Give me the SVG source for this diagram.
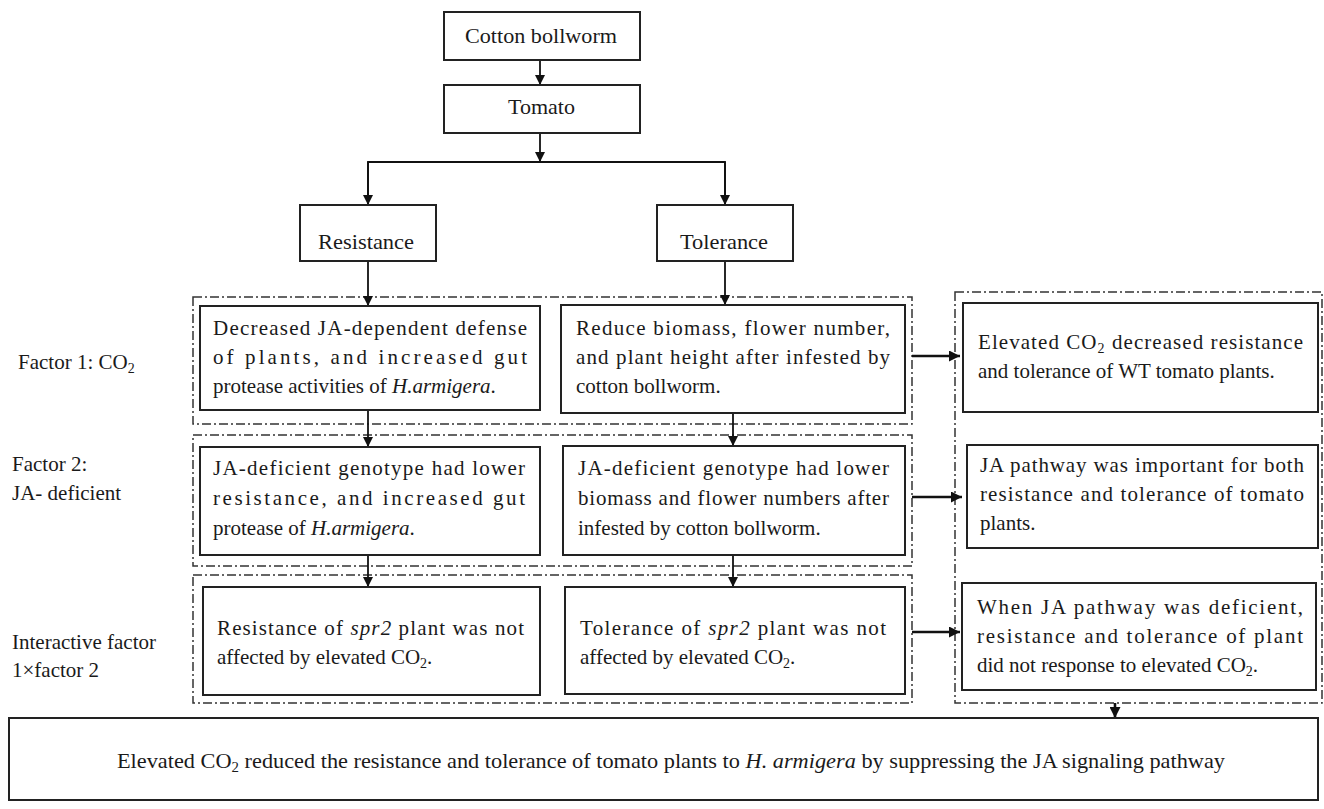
<svg xmlns="http://www.w3.org/2000/svg" width="1324" height="809" viewBox="0 0 1324 809">
<defs>
<marker id="ah" markerUnits="userSpaceOnUse" markerWidth="10" markerHeight="10" refX="10" refY="5" orient="auto"><path d="M0,0 L10,5 L0,10 z" fill="#111"/></marker>
<marker id="ahb" markerUnits="userSpaceOnUse" markerWidth="11" markerHeight="11" refX="11" refY="5.5" orient="auto"><path d="M0,0 L11,5.5 L0,11 z" fill="#111"/></marker>
<style>
.box{fill:#fff;stroke:#222;stroke-width:2}
.dd{fill:none;stroke:#333;stroke-width:1.5;stroke-dasharray:9,3,2,3}
.t{font-family:"Liberation Serif",serif;font-size:21px;fill:#1a1a1a}
.c{text-anchor:middle}
.ln{stroke:#111;stroke-width:1.8;fill:none}
.lb{stroke:#111;stroke-width:2.6;fill:none}
.i{font-style:italic}
</style>
</defs>
<rect width="1324" height="809" fill="#fff"/>

<g id="groups">
<rect class="dd" x="193" y="297" width="719" height="127"/>
<rect class="dd" x="193" y="435" width="719" height="131"/>
<rect class="dd" x="193" y="575" width="719" height="128"/>
<rect class="dd" x="955" y="292" width="367" height="411"/>
</g>

<g id="connectors">
<line class="ln" x1="540" y1="60" x2="540" y2="85" marker-end="url(#ah)"/>
<line class="ln" x1="540" y1="133" x2="540" y2="162" marker-end="url(#ah)"/>
<polyline class="ln" points="368,205 368,162 725,162 725,205"/>
<line class="ln" x1="368" y1="162" x2="368" y2="205" marker-end="url(#ah)"/>
<line class="ln" x1="725" y1="162" x2="725" y2="205" marker-end="url(#ah)"/>
<line class="ln" x1="368" y1="261" x2="368" y2="306" marker-end="url(#ah)"/>
<line class="ln" x1="725" y1="261" x2="725" y2="305" marker-end="url(#ah)"/>
<line class="ln" x1="368" y1="402" x2="368" y2="447" marker-end="url(#ah)"/>
<line class="ln" x1="733" y1="402" x2="733" y2="446" marker-end="url(#ah)"/>
<line class="ln" x1="368" y1="542" x2="368" y2="587" marker-end="url(#ah)"/>
<line class="ln" x1="733" y1="542" x2="733" y2="587" marker-end="url(#ah)"/>
<line class="lb" x1="912" y1="356" x2="960" y2="356" marker-end="url(#ahb)"/>
<line class="lb" x1="912" y1="497" x2="962" y2="497" marker-end="url(#ahb)"/>
<line class="lb" x1="912" y1="632" x2="960" y2="632" marker-end="url(#ahb)"/>
<line class="lb" x1="1115" y1="703" x2="1115" y2="718" marker-end="url(#ahb)"/>
</g>

<g id="cotton">
<rect class="box" x="444" y="12" width="196" height="48"/>
<text class="t" x="465" y="43" font-size="22" textLength="152" lengthAdjust="spacingAndGlyphs">Cotton bollworm</text>
</g>
<g id="tomato">
<rect class="box" x="444" y="85" width="196" height="48"/>
<text class="t" x="508" y="114" font-size="22" textLength="67" lengthAdjust="spacingAndGlyphs">Tomato</text>
</g>
<g id="resistance">
<rect class="box" x="300" y="205" width="136" height="56"/>
<text class="t" x="318" y="249" font-size="22" textLength="96" lengthAdjust="spacingAndGlyphs">Resistance</text>
</g>
<g id="tolerance">
<rect class="box" x="657" y="205" width="136" height="56"/>
<text class="t" x="680" y="249" font-size="22" textLength="88" lengthAdjust="spacingAndGlyphs">Tolerance</text>
</g>

<g id="label-f1">
<text class="t" x="18" y="369">Factor 1: CO<tspan font-size="14" dy="4">2</tspan></text>
</g>
<g id="label-f2">
<text class="t" x="12" y="471">Factor 2:</text>
<text class="t" x="12" y="500">JA- deficient</text>
</g>
<g id="label-f3">
<text class="t" x="12" y="649" font-size="20">Interactive factor</text>
<text class="t" x="12" y="677">1×factor 2</text>
</g>

<g id="r1-res">
<rect class="box" x="200" y="306" width="340" height="104"/>
<text class="t" x="213" y="335" textLength="314" lengthAdjust="spacing">Decreased JA-dependent defense</text>
<text class="t" x="213" y="364" textLength="314" lengthAdjust="spacing">of plants, and increased gut</text>
<text class="t" x="213" y="393">protease activities of <tspan class="i">H.armigera</tspan>.</text>
</g>
<g id="r1-tol">
<rect class="box" x="561" y="305" width="344" height="108"/>
<text class="t" x="576" y="335" textLength="314" lengthAdjust="spacing">Reduce biomass, flower number,</text>
<text class="t" x="576" y="364" textLength="314" lengthAdjust="spacing">and plant height after infested by</text>
<text class="t" x="576" y="393">cotton bollworm.</text>
</g>
<g id="r1-sum">
<rect class="box" x="963" y="303" width="355" height="109"/>
<text class="t" x="978" y="349" textLength="325" lengthAdjust="spacing">Elevated CO<tspan font-size="14" dy="4">2</tspan><tspan dy="-4"> decreased resistance</tspan></text>
<text class="t" x="978" y="378">and tolerance of WT tomato plants.</text>
</g>

<g id="r2-res">
<rect class="box" x="200" y="447" width="340" height="108"/>
<text class="t" x="213" y="475" textLength="312" lengthAdjust="spacing">JA-deficient genotype had lower</text>
<text class="t" x="213" y="505" textLength="312" lengthAdjust="spacing">resistance, and increased gut</text>
<text class="t" x="213" y="535">protease of <tspan class="i">H.armigera</tspan>.</text>
</g>
<g id="r2-tol">
<rect class="box" x="563" y="446" width="342" height="109"/>
<text class="t" x="578" y="475" textLength="311" lengthAdjust="spacing">JA-deficient genotype had lower</text>
<text class="t" x="578" y="505" textLength="311" lengthAdjust="spacing">biomass and flower numbers after</text>
<text class="t" x="578" y="535">infested by cotton bollworm.</text>
</g>
<g id="r2-sum">
<rect class="box" x="967" y="445" width="351" height="103"/>
<text class="t" x="980" y="472" textLength="324" lengthAdjust="spacing">JA pathway was important for both</text>
<text class="t" x="980" y="501" textLength="324" lengthAdjust="spacing">resistance and tolerance of tomato</text>
<text class="t" x="980" y="530">plants.</text>
</g>

<g id="r3-res">
<rect class="box" x="203" y="587" width="337" height="108"/>
<text class="t" x="217" y="635" textLength="307" lengthAdjust="spacing">Resistance of <tspan class="i">spr2</tspan> plant was not</text>
<text class="t" x="217" y="664">affected by elevated CO<tspan font-size="14" dy="4">2</tspan><tspan dy="-4">.</tspan></text>
</g>
<g id="r3-tol">
<rect class="box" x="565" y="587" width="340" height="107"/>
<text class="t" x="580" y="635" textLength="306" lengthAdjust="spacing">Tolerance of <tspan class="i">spr2</tspan> plant was not</text>
<text class="t" x="580" y="664">affected by elevated CO<tspan font-size="14" dy="4">2</tspan><tspan dy="-4">.</tspan></text>
</g>
<g id="r3-sum">
<rect class="box" x="962" y="583" width="354" height="107"/>
<text class="t" x="977" y="614" textLength="326" lengthAdjust="spacing">When JA pathway was deficient,</text>
<text class="t" x="977" y="643" textLength="326" lengthAdjust="spacing">resistance and tolerance of plant</text>
<text class="t" x="977" y="672">did not response to elevated CO<tspan font-size="14" dy="4">2</tspan><tspan dy="-4">.</tspan></text>
</g>

<g id="conclusion">
<rect class="box" x="9" y="718" width="1309" height="82"/>
<text class="t" x="117" y="768" font-size="22" textLength="1108" lengthAdjust="spacingAndGlyphs">Elevated CO<tspan font-size="14" dy="4">2</tspan><tspan dy="-4"> reduced the resistance and tolerance of tomato plants to </tspan><tspan class="i">H. armigera</tspan> by suppressing the JA signaling pathway</text>
</g>
</svg>
